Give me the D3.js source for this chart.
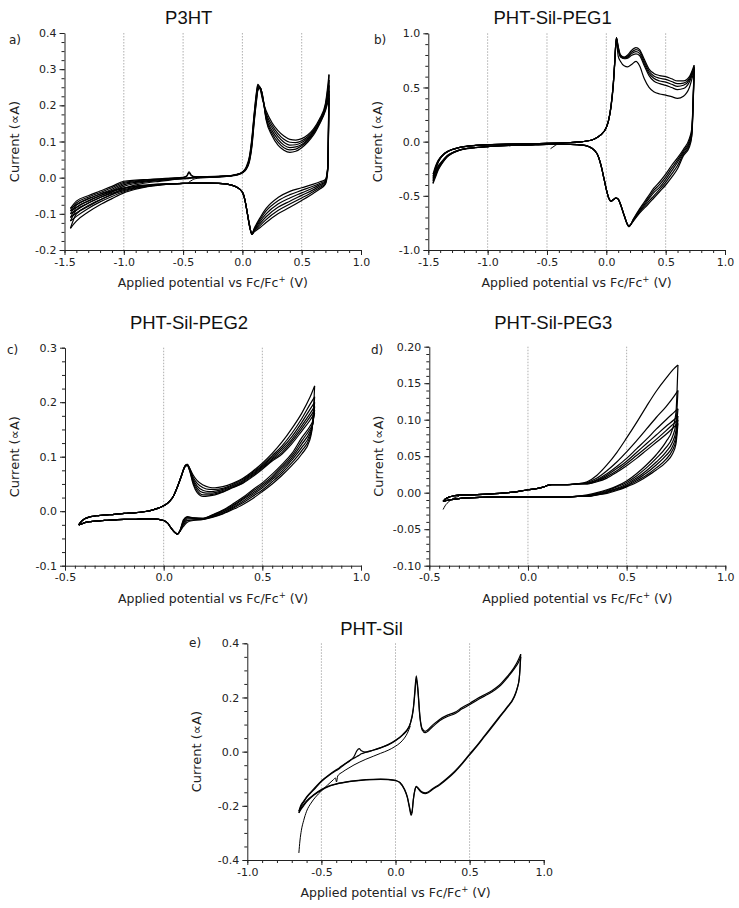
<!DOCTYPE html>
<html><head><meta charset="utf-8">
<script src="https://cdn.jsdelivr.net/npm/d3@7"></script>
<style>
body{margin:0;background:#fff;}
svg{display:block;background:#fff;}
</style></head><body>
<svg id="chart" width="739" height="908"></svg>
<script>
// ---------------- DATA ----------------
// Panel a: P3HT
const P3HT_E_FWD = [-1.45,-1.4,-1.3,-1.2,-1.1,-1.0,-0.9,-0.8,-0.7,-0.6,-0.5,-0.47,-0.45,-0.43,-0.4,-0.3,-0.2,-0.1,-0.05,0.0,0.03,0.06,0.08,0.1,0.12,0.13,0.15,0.17,0.2,0.25,0.3,0.35,0.4,0.45,0.5,0.55,0.6,0.65,0.7,0.73];
const P3HT_I_FWD = [
 [-0.085,-0.065,-0.05,-0.037,-0.024,-0.01,-0.007,-0.005,-0.003,-0.001,0.001,0.005,0.016,0.007,0.003,0.003,0.004,0.006,0.009,0.016,0.028,0.06,0.11,0.18,0.24,0.258,0.245,0.215,0.185,0.152,0.13,0.115,0.106,0.104,0.108,0.118,0.135,0.162,0.205,0.285],
 [-0.092,-0.07,-0.054,-0.041,-0.028,-0.013,-0.009,-0.006,-0.004,-0.002,0.0,0.004,0.013,0.005,0.002,0.002,0.003,0.005,0.008,0.015,0.026,0.056,0.105,0.175,0.235,0.255,0.248,0.22,0.178,0.145,0.122,0.106,0.098,0.097,0.102,0.113,0.131,0.158,0.2,0.27],
 [-0.1,-0.076,-0.059,-0.045,-0.032,-0.016,-0.011,-0.008,-0.005,-0.003,-0.001,-0.001,-0.001,0.0,0.001,0.002,0.003,0.005,0.008,0.015,0.025,0.053,0.1,0.17,0.23,0.252,0.25,0.222,0.172,0.138,0.114,0.098,0.09,0.091,0.097,0.109,0.128,0.155,0.196,0.255],
 [-0.11,-0.083,-0.065,-0.05,-0.036,-0.02,-0.013,-0.009,-0.006,-0.004,-0.002,-0.002,-0.001,0.0,0.001,0.002,0.003,0.005,0.008,0.014,0.024,0.05,0.095,0.165,0.225,0.248,0.25,0.224,0.167,0.13,0.106,0.09,0.083,0.085,0.092,0.105,0.125,0.152,0.192,0.24],
 [-0.12,-0.09,-0.071,-0.055,-0.04,-0.024,-0.016,-0.011,-0.008,-0.005,-0.003,-0.002,-0.001,0.0,0.001,0.002,0.003,0.005,0.008,0.014,0.023,0.048,0.09,0.16,0.22,0.245,0.25,0.226,0.163,0.123,0.098,0.083,0.077,0.079,0.088,0.102,0.122,0.15,0.188,0.23],
 [-0.14,-0.1,-0.08,-0.062,-0.046,-0.03,-0.02,-0.014,-0.01,-0.006,-0.003,-0.003,-0.002,-0.001,0.0,0.001,0.002,0.004,0.007,0.013,0.022,0.045,0.085,0.155,0.215,0.24,0.248,0.228,0.16,0.116,0.09,0.076,0.07,0.073,0.083,0.098,0.118,0.148,0.185,0.22]
];
const P3HT_E_REV = [-1.45,-1.4,-1.3,-1.2,-1.1,-1.0,-0.9,-0.8,-0.7,-0.6,-0.5,-0.4,-0.3,-0.2,-0.1,-0.05,0.0,0.02,0.04,0.06,0.08,0.1,0.15,0.2,0.3,0.4,0.5,0.6,0.65,0.7,0.72,0.73];
const P3HT_I_REV = [
 [-0.085,-0.075,-0.058,-0.046,-0.036,-0.028,-0.023,-0.02,-0.018,-0.017,-0.016,-0.015,-0.015,-0.016,-0.02,-0.026,-0.04,-0.06,-0.095,-0.135,-0.155,-0.14,-0.11,-0.085,-0.055,-0.038,-0.028,-0.018,-0.012,-0.005,0.03,0.285],
 [-0.092,-0.082,-0.064,-0.05,-0.039,-0.03,-0.024,-0.021,-0.018,-0.017,-0.016,-0.015,-0.015,-0.016,-0.02,-0.026,-0.04,-0.06,-0.095,-0.134,-0.155,-0.142,-0.115,-0.092,-0.064,-0.047,-0.035,-0.023,-0.016,-0.008,0.03,0.27],
 [-0.1,-0.09,-0.07,-0.055,-0.043,-0.033,-0.026,-0.022,-0.019,-0.017,-0.016,-0.015,-0.015,-0.016,-0.02,-0.026,-0.04,-0.06,-0.095,-0.133,-0.156,-0.144,-0.12,-0.1,-0.073,-0.056,-0.042,-0.028,-0.02,-0.01,0.028,0.255],
 [-0.11,-0.098,-0.077,-0.061,-0.047,-0.036,-0.028,-0.023,-0.019,-0.017,-0.016,-0.015,-0.015,-0.016,-0.02,-0.026,-0.04,-0.06,-0.095,-0.132,-0.156,-0.146,-0.126,-0.108,-0.082,-0.065,-0.049,-0.033,-0.024,-0.012,0.026,0.24],
 [-0.12,-0.107,-0.085,-0.067,-0.052,-0.039,-0.03,-0.024,-0.02,-0.017,-0.016,-0.015,-0.015,-0.016,-0.02,-0.026,-0.04,-0.06,-0.095,-0.131,-0.157,-0.148,-0.132,-0.116,-0.091,-0.073,-0.056,-0.038,-0.028,-0.015,0.024,0.23],
 [-0.14,-0.12,-0.095,-0.075,-0.058,-0.042,-0.032,-0.025,-0.021,-0.017,-0.016,-0.015,-0.015,-0.016,-0.02,-0.026,-0.04,-0.06,-0.095,-0.13,-0.157,-0.15,-0.138,-0.124,-0.1,-0.082,-0.063,-0.043,-0.032,-0.018,0.02,0.22]
];
const P3HT_E_START = [-0.455,-0.44,-0.42,-0.4,-0.35,-0.3,-0.2,-0.1];
const P3HT_I_START = [-0.014,-0.01,-0.006,-0.003,-0.001,0.0,0.002,0.004];

// Panel b: PHT-Sil-PEG1
const PEG1_E_FWD = [-1.46,-1.44,-1.42,-1.4,-1.37,-1.34,-1.3,-1.25,-1.2,-1.1,-1.0,-0.8,-0.6,-0.5,-0.4,-0.3,-0.2,-0.15,-0.1,-0.05,0.0,0.02,0.04,0.06,0.07,0.085,0.1,0.12,0.15,0.18,0.21,0.25,0.28,0.32,0.36,0.4,0.45,0.5,0.55,0.6,0.65,0.7,0.74];
const PEG1_I_FWD = [
 [-0.385,-0.27,-0.2,-0.158,-0.12,-0.095,-0.075,-0.058,-0.047,-0.035,-0.028,-0.022,-0.018,-0.016,-0.013,-0.008,0.0,0.008,0.025,0.06,0.13,0.2,0.33,0.55,0.72,0.96,0.88,0.8,0.78,0.8,0.84,0.868,0.85,0.76,0.67,0.63,0.61,0.6,0.58,0.56,0.56,0.6,0.705],
 [-0.36,-0.26,-0.195,-0.155,-0.118,-0.094,-0.074,-0.058,-0.047,-0.035,-0.029,-0.022,-0.018,-0.016,-0.013,-0.008,0.0,0.008,0.025,0.06,0.13,0.2,0.33,0.55,0.72,0.96,0.87,0.79,0.775,0.79,0.825,0.85,0.835,0.74,0.65,0.605,0.585,0.575,0.555,0.535,0.54,0.585,0.69],
 [-0.34,-0.25,-0.19,-0.152,-0.116,-0.093,-0.073,-0.057,-0.046,-0.035,-0.029,-0.022,-0.018,-0.016,-0.013,-0.008,0.0,0.008,0.025,0.06,0.13,0.2,0.33,0.55,0.72,0.955,0.86,0.785,0.77,0.78,0.81,0.83,0.815,0.72,0.63,0.585,0.56,0.55,0.53,0.51,0.52,0.57,0.68],
 [-0.32,-0.24,-0.185,-0.15,-0.115,-0.092,-0.073,-0.057,-0.046,-0.035,-0.029,-0.022,-0.018,-0.016,-0.013,-0.008,0.0,0.008,0.025,0.06,0.13,0.2,0.33,0.55,0.72,0.95,0.85,0.78,0.765,0.77,0.795,0.81,0.795,0.7,0.61,0.56,0.535,0.52,0.5,0.48,0.49,0.55,0.67],
 [-0.3,-0.23,-0.18,-0.148,-0.114,-0.091,-0.072,-0.056,-0.046,-0.035,-0.03,-0.023,-0.018,-0.016,-0.013,-0.008,0.0,0.008,0.025,0.06,0.13,0.2,0.32,0.53,0.7,0.93,0.79,0.74,0.7,0.69,0.71,0.74,0.7,0.58,0.5,0.46,0.44,0.43,0.415,0.4,0.42,0.5,0.66]
];
const PEG1_E_REV = [-1.46,-1.44,-1.42,-1.4,-1.37,-1.34,-1.3,-1.25,-1.2,-1.1,-1.0,-0.8,-0.6,-0.5,-0.4,-0.3,-0.2,-0.15,-0.1,-0.07,-0.04,-0.02,0.0,0.02,0.04,0.06,0.08,0.1,0.12,0.15,0.19,0.23,0.28,0.35,0.4,0.45,0.5,0.55,0.6,0.65,0.7,0.72,0.74];
const PEG1_I_REV = [
 [-0.385,-0.33,-0.27,-0.23,-0.18,-0.14,-0.11,-0.085,-0.07,-0.055,-0.046,-0.035,-0.028,-0.025,-0.024,-0.025,-0.032,-0.045,-0.08,-0.13,-0.24,-0.34,-0.44,-0.52,-0.55,-0.535,-0.52,-0.53,-0.58,-0.68,-0.785,-0.71,-0.62,-0.51,-0.43,-0.37,-0.3,-0.22,-0.15,-0.07,0.03,0.12,0.705],
 [-0.36,-0.315,-0.26,-0.222,-0.175,-0.137,-0.108,-0.084,-0.069,-0.055,-0.046,-0.035,-0.028,-0.025,-0.024,-0.025,-0.032,-0.045,-0.08,-0.13,-0.24,-0.34,-0.44,-0.52,-0.55,-0.535,-0.52,-0.53,-0.58,-0.68,-0.785,-0.715,-0.63,-0.525,-0.45,-0.395,-0.325,-0.245,-0.17,-0.085,0.01,0.1,0.69],
 [-0.34,-0.3,-0.25,-0.215,-0.17,-0.134,-0.106,-0.083,-0.068,-0.054,-0.046,-0.035,-0.028,-0.025,-0.024,-0.025,-0.032,-0.045,-0.08,-0.13,-0.24,-0.34,-0.44,-0.52,-0.55,-0.535,-0.52,-0.53,-0.58,-0.68,-0.78,-0.72,-0.64,-0.54,-0.47,-0.42,-0.35,-0.27,-0.19,-0.1,-0.01,0.08,0.68],
 [-0.32,-0.285,-0.24,-0.208,-0.166,-0.131,-0.104,-0.082,-0.067,-0.054,-0.046,-0.035,-0.028,-0.025,-0.024,-0.025,-0.032,-0.045,-0.08,-0.13,-0.24,-0.34,-0.44,-0.52,-0.55,-0.535,-0.52,-0.53,-0.58,-0.68,-0.78,-0.725,-0.65,-0.56,-0.5,-0.44,-0.375,-0.3,-0.22,-0.115,-0.03,0.06,0.67],
 [-0.3,-0.27,-0.23,-0.2,-0.162,-0.128,-0.102,-0.081,-0.067,-0.054,-0.046,-0.035,-0.028,-0.025,-0.024,-0.025,-0.032,-0.045,-0.08,-0.13,-0.24,-0.34,-0.44,-0.52,-0.55,-0.535,-0.52,-0.53,-0.58,-0.68,-0.775,-0.73,-0.66,-0.58,-0.52,-0.46,-0.4,-0.33,-0.25,-0.13,-0.05,0.05,0.66]
];
const PEG1_E_START = [-0.47,-0.45,-0.43,-0.41,-0.38];
const PEG1_I_START = [-0.065,-0.05,-0.035,-0.022,-0.015];

// Panel c: PHT-Sil-PEG2
const PEG2_E_FWD = [-0.43,-0.42,-0.4,-0.37,-0.33,-0.3,-0.25,-0.2,-0.15,-0.1,-0.05,0.0,0.03,0.05,0.07,0.09,0.1,0.11,0.12,0.13,0.15,0.17,0.2,0.23,0.26,0.3,0.35,0.4,0.45,0.5,0.55,0.6,0.65,0.7,0.74,0.765];
const PEG2_I_FWD = [
 [-0.025,-0.02,-0.014,-0.01,-0.008,-0.007,-0.006,-0.004,-0.003,-0.001,0.003,0.01,0.018,0.028,0.045,0.065,0.076,0.084,0.086,0.08,0.066,0.056,0.048,0.044,0.043,0.045,0.051,0.06,0.073,0.088,0.106,0.127,0.152,0.18,0.208,0.23],
 [-0.025,-0.02,-0.014,-0.01,-0.008,-0.007,-0.006,-0.004,-0.003,-0.001,0.003,0.01,0.018,0.028,0.045,0.065,0.076,0.084,0.086,0.08,0.062,0.051,0.043,0.04,0.04,0.042,0.049,0.058,0.071,0.085,0.102,0.12,0.143,0.17,0.195,0.21],
 [-0.025,-0.02,-0.014,-0.01,-0.008,-0.007,-0.006,-0.004,-0.003,-0.001,0.003,0.01,0.018,0.028,0.045,0.065,0.076,0.084,0.085,0.079,0.058,0.046,0.038,0.036,0.037,0.04,0.047,0.056,0.069,0.083,0.099,0.116,0.137,0.163,0.186,0.2],
 [-0.025,-0.02,-0.014,-0.01,-0.008,-0.007,-0.006,-0.004,-0.003,-0.001,0.003,0.01,0.018,0.028,0.045,0.065,0.076,0.083,0.085,0.078,0.055,0.042,0.034,0.033,0.034,0.038,0.045,0.054,0.067,0.081,0.096,0.112,0.132,0.157,0.178,0.192],
 [-0.025,-0.02,-0.014,-0.01,-0.008,-0.007,-0.006,-0.004,-0.003,-0.001,0.003,0.01,0.018,0.028,0.045,0.065,0.075,0.083,0.084,0.077,0.052,0.038,0.03,0.03,0.032,0.036,0.044,0.052,0.065,0.079,0.094,0.108,0.128,0.152,0.172,0.186],
 [-0.025,-0.02,-0.014,-0.01,-0.008,-0.007,-0.006,-0.004,-0.003,-0.001,0.003,0.01,0.018,0.028,0.045,0.064,0.075,0.082,0.084,0.076,0.049,0.034,0.027,0.028,0.03,0.035,0.043,0.051,0.063,0.077,0.092,0.105,0.124,0.147,0.166,0.18]
];
const PEG2_E_REV = [-0.43,-0.42,-0.4,-0.37,-0.33,-0.3,-0.25,-0.2,-0.15,-0.1,-0.05,0.0,0.02,0.04,0.06,0.07,0.08,0.1,0.12,0.15,0.2,0.25,0.3,0.35,0.4,0.45,0.5,0.55,0.6,0.65,0.7,0.74,0.755,0.765];
const PEG2_I_REV = [
 [-0.025,-0.024,-0.021,-0.019,-0.018,-0.017,-0.016,-0.015,-0.015,-0.014,-0.014,-0.017,-0.022,-0.032,-0.04,-0.042,-0.038,-0.028,-0.02,-0.017,-0.015,-0.011,-0.005,0.003,0.012,0.023,0.036,0.05,0.066,0.084,0.105,0.13,0.16,0.23],
 [-0.025,-0.024,-0.021,-0.019,-0.018,-0.017,-0.016,-0.015,-0.015,-0.014,-0.014,-0.017,-0.022,-0.032,-0.04,-0.042,-0.038,-0.025,-0.017,-0.016,-0.015,-0.01,-0.004,0.005,0.015,0.027,0.039,0.054,0.07,0.089,0.111,0.135,0.16,0.21],
 [-0.025,-0.024,-0.021,-0.019,-0.018,-0.017,-0.016,-0.015,-0.015,-0.014,-0.014,-0.017,-0.022,-0.032,-0.04,-0.042,-0.038,-0.022,-0.014,-0.014,-0.014,-0.009,-0.002,0.007,0.018,0.03,0.043,0.058,0.074,0.094,0.117,0.14,0.16,0.2],
 [-0.025,-0.024,-0.021,-0.019,-0.018,-0.017,-0.016,-0.015,-0.015,-0.014,-0.014,-0.017,-0.022,-0.032,-0.04,-0.042,-0.038,-0.02,-0.012,-0.013,-0.014,-0.008,-0.001,0.009,0.021,0.033,0.046,0.061,0.078,0.098,0.123,0.145,0.16,0.192],
 [-0.025,-0.024,-0.021,-0.019,-0.018,-0.017,-0.016,-0.015,-0.015,-0.014,-0.014,-0.017,-0.022,-0.032,-0.04,-0.042,-0.038,-0.018,-0.011,-0.012,-0.013,-0.007,0.001,0.011,0.023,0.036,0.049,0.064,0.082,0.102,0.129,0.15,0.16,0.186],
 [-0.025,-0.024,-0.021,-0.019,-0.018,-0.017,-0.016,-0.015,-0.015,-0.014,-0.014,-0.017,-0.022,-0.032,-0.04,-0.042,-0.038,-0.016,-0.01,-0.012,-0.013,-0.006,0.002,0.013,0.025,0.039,0.052,0.068,0.086,0.106,0.135,0.155,0.165,0.18]
];

// Panel d: PHT-Sil-PEG3
const PEG3_E_FWD = [-0.43,-0.42,-0.4,-0.37,-0.33,-0.3,-0.2,-0.1,0.0,0.05,0.08,0.1,0.12,0.15,0.2,0.25,0.3,0.35,0.4,0.45,0.5,0.55,0.6,0.65,0.7,0.74,0.76];
const PEG3_I_FWD = [
 [-0.012,-0.009,-0.006,-0.004,-0.003,-0.003,-0.002,0.0,0.004,0.006,0.008,0.01,0.011,0.011,0.011,0.012,0.015,0.024,0.038,0.055,0.075,0.096,0.118,0.139,0.157,0.17,0.175],
 [-0.012,-0.009,-0.006,-0.004,-0.003,-0.003,-0.002,0.0,0.004,0.006,0.008,0.01,0.011,0.011,0.011,0.012,0.014,0.02,0.03,0.042,0.056,0.071,0.087,0.103,0.118,0.132,0.14],
 [-0.012,-0.009,-0.006,-0.004,-0.003,-0.003,-0.002,0.0,0.004,0.006,0.008,0.01,0.011,0.011,0.011,0.012,0.013,0.018,0.026,0.036,0.047,0.06,0.073,0.087,0.1,0.11,0.115],
 [-0.012,-0.009,-0.006,-0.004,-0.003,-0.003,-0.002,0.0,0.004,0.006,0.008,0.01,0.011,0.011,0.011,0.012,0.013,0.017,0.024,0.033,0.043,0.055,0.067,0.079,0.091,0.1,0.105],
 [-0.012,-0.009,-0.006,-0.004,-0.003,-0.003,-0.002,0.0,0.004,0.006,0.008,0.01,0.011,0.011,0.011,0.012,0.012,0.016,0.022,0.03,0.04,0.051,0.062,0.073,0.085,0.095,0.1],
 [-0.012,-0.009,-0.006,-0.004,-0.003,-0.003,-0.002,0.0,0.004,0.006,0.008,0.01,0.011,0.011,0.011,0.012,0.012,0.015,0.02,0.028,0.037,0.047,0.058,0.069,0.08,0.09,0.095]
];
const PEG3_E_REV = [-0.43,-0.4,-0.35,-0.3,-0.2,-0.1,0.0,0.1,0.2,0.25,0.3,0.35,0.4,0.45,0.5,0.55,0.6,0.65,0.7,0.73,0.75,0.76];
const PEG3_I_REV = [
 [-0.012,-0.01,-0.008,-0.007,-0.006,-0.006,-0.006,-0.006,-0.006,-0.005,-0.003,0.0,0.004,0.009,0.016,0.026,0.038,0.052,0.07,0.085,0.11,0.175],
 [-0.012,-0.01,-0.008,-0.007,-0.006,-0.006,-0.006,-0.006,-0.006,-0.005,-0.004,-0.001,0.003,0.008,0.014,0.023,0.034,0.047,0.062,0.075,0.095,0.14],
 [-0.012,-0.01,-0.008,-0.007,-0.006,-0.006,-0.006,-0.006,-0.006,-0.005,-0.004,-0.002,0.002,0.006,0.012,0.02,0.03,0.042,0.056,0.068,0.085,0.115],
 [-0.012,-0.01,-0.008,-0.007,-0.006,-0.006,-0.006,-0.006,-0.006,-0.005,-0.005,-0.002,0.001,0.005,0.01,0.018,0.027,0.038,0.051,0.062,0.078,0.105],
 [-0.012,-0.01,-0.008,-0.007,-0.006,-0.006,-0.006,-0.006,-0.006,-0.005,-0.005,-0.003,0.0,0.004,0.009,0.016,0.024,0.034,0.046,0.057,0.072,0.1],
 [-0.012,-0.01,-0.008,-0.007,-0.006,-0.006,-0.006,-0.006,-0.006,-0.005,-0.005,-0.003,-0.001,0.003,0.008,0.014,0.022,0.031,0.042,0.052,0.067,0.095]
];
const PEG3_E_START = [-0.43,-0.42,-0.4,-0.38,-0.35];
const PEG3_I_START = [-0.023,-0.018,-0.012,-0.008,-0.005];

// Panel e: PHT-Sil
const SIL_E_FWD = [-0.652,-0.64,-0.62,-0.6,-0.55,-0.5,-0.45,-0.4,-0.38,-0.35,-0.3,-0.28,-0.26,-0.245,-0.23,-0.2,-0.15,-0.1,-0.05,0.0,0.05,0.08,0.1,0.12,0.13,0.14,0.15,0.165,0.18,0.2,0.25,0.3,0.35,0.4,0.45,0.5,0.55,0.6,0.65,0.7,0.75,0.8,0.83,0.845];
const SIL_I_FWD = [
 [-0.226,-0.205,-0.187,-0.17,-0.14,-0.11,-0.088,-0.07,-0.063,-0.05,-0.03,-0.018,0.004,0.011,0.003,-0.002,0.005,0.014,0.025,0.04,0.062,0.08,0.105,0.16,0.22,0.28,0.24,0.13,0.085,0.075,0.098,0.12,0.135,0.145,0.163,0.178,0.195,0.21,0.225,0.245,0.275,0.31,0.34,0.36],
 [-0.22,-0.2,-0.183,-0.167,-0.137,-0.108,-0.086,-0.067,-0.06,-0.048,-0.03,-0.024,-0.018,-0.013,-0.008,-0.002,0.006,0.015,0.026,0.042,0.064,0.082,0.103,0.155,0.21,0.27,0.23,0.125,0.08,0.07,0.092,0.115,0.13,0.14,0.158,0.173,0.19,0.205,0.22,0.24,0.27,0.305,0.33,0.35]
];
const SIL_E_REV = [-0.652,-0.64,-0.62,-0.6,-0.55,-0.5,-0.45,-0.4,-0.3,-0.2,-0.1,-0.05,0.0,0.03,0.06,0.08,0.095,0.105,0.112,0.12,0.13,0.14,0.15,0.17,0.2,0.22,0.25,0.3,0.35,0.4,0.45,0.5,0.55,0.6,0.65,0.7,0.75,0.8,0.82,0.835,0.845];
const SIL_I_REV = [
 [-0.226,-0.215,-0.2,-0.185,-0.16,-0.142,-0.128,-0.12,-0.11,-0.104,-0.102,-0.103,-0.107,-0.115,-0.14,-0.17,-0.21,-0.235,-0.225,-0.18,-0.145,-0.13,-0.135,-0.148,-0.155,-0.152,-0.14,-0.122,-0.1,-0.075,-0.045,-0.012,0.02,0.055,0.09,0.125,0.16,0.2,0.23,0.27,0.36],
 [-0.22,-0.21,-0.196,-0.182,-0.158,-0.14,-0.127,-0.119,-0.109,-0.103,-0.101,-0.102,-0.106,-0.114,-0.138,-0.167,-0.205,-0.228,-0.22,-0.178,-0.143,-0.128,-0.132,-0.145,-0.152,-0.149,-0.137,-0.119,-0.097,-0.072,-0.042,-0.009,0.023,0.058,0.093,0.128,0.163,0.203,0.233,0.27,0.35]
];
const SIL_E_START = [-0.652,-0.645,-0.635,-0.62,-0.6,-0.57,-0.54,-0.5,-0.46,-0.42,-0.405,-0.398,-0.39,-0.36,-0.32,-0.28,-0.24,-0.2,-0.15,-0.1,-0.05,0.0,0.03,0.06,0.08,0.1];
const SIL_I_START = [-0.374,-0.33,-0.29,-0.255,-0.22,-0.19,-0.168,-0.145,-0.124,-0.104,-0.097,-0.112,-0.09,-0.076,-0.062,-0.049,-0.038,-0.028,-0.017,-0.006,0.005,0.02,0.032,0.05,0.068,0.095];

// Tick labels / axes
const TITLES = ["P3HT","PHT-Sil-PEG1","PHT-Sil-PEG2","PHT-Sil-PEG3","PHT-Sil"];
const LETTERS = ["a)","b)","c)","d)","e)"];
const X_TICKS_A = [-1.5,-1.0,-0.5,0.0,0.5,1.0];
const X_TICKS_C = [-0.5,0.0,0.5,1.0];
const X_TICKS_E = [-1.0,-0.5,0.0,0.5,1.0];
const Y_TICKS_A = [-0.2,-0.1,0.0,0.1,0.2,0.3,0.4];
const Y_TICKS_B = [-1.0,-0.5,0.0,0.5,1.0];
const Y_TICKS_C = [-0.1,0.0,0.1,0.2,0.3];
const Y_TICKS_D = [-0.10,-0.05,0.00,0.05,0.10,0.15,0.20];
const Y_TICKS_E = [-0.4,-0.2,0.0,0.2,0.4];
const GRID_AB = [-1.0,-0.5,0.0,0.5];
const GRID_CD = [0.0,0.5];
const GRID_E = [-0.5,0.0,0.5];
const X_LABEL = "Applied potential vs Fc/Fc";
const Y_LABEL = "Current (\u221DA)";

// ---------------- LAYOUT ----------------
const panels = [
 {title:TITLES[0], letter:LETTERS[0], left:64.5, top:33, w:296.5, h:217, xd:[-1.5,1.0], yd:[-0.2,0.4], xt:X_TICKS_A, yt:Y_TICKS_A, xm:0.1, ym:0.025, dec:1, grid:GRID_AB,
  fwdE:P3HT_E_FWD, fwdI:P3HT_I_FWD, revE:P3HT_E_REV, revI:P3HT_I_REV, stE:P3HT_E_START, stI:P3HT_I_START, titleY:24, letterY:44, letterX:9},
 {title:TITLES[1], letter:LETTERS[1], left:428.3, top:33.3, w:296.7, h:216.7, xd:[-1.5,1.0], yd:[-1.0,1.0], xt:X_TICKS_A, yt:Y_TICKS_B, xm:0.1, ym:0.1, dec:1, grid:GRID_AB,
  fwdE:PEG1_E_FWD, fwdI:PEG1_I_FWD, revE:PEG1_E_REV, revI:PEG1_I_REV, stE:PEG1_E_START, stI:PEG1_I_START, titleY:24, letterY:44, letterX:374},
 {title:TITLES[2], letter:LETTERS[2], left:65, top:347.7, w:296, h:218, xd:[-0.5,1.0], yd:[-0.1,0.3], xt:X_TICKS_C, yt:Y_TICKS_C, xm:0.05, ym:0.025, dec:1, grid:GRID_CD,
  fwdE:PEG2_E_FWD, fwdI:PEG2_I_FWD, revE:PEG2_E_REV, revI:PEG2_I_REV, stE:null, stI:null, titleY:329, letterY:354, letterX:7},
 {title:TITLES[3], letter:LETTERS[3], left:429.3, top:346.7, w:296, h:219, xd:[-0.5,1.0], yd:[-0.1,0.2], xt:X_TICKS_C, yt:Y_TICKS_D, xm:0.05, ym:0.01, dec:2, grid:GRID_CD,
  fwdE:PEG3_E_FWD, fwdI:PEG3_I_FWD, revE:PEG3_E_REV, revI:PEG3_I_REV, stE:PEG3_E_START, stI:PEG3_I_START, titleY:329, letterY:354, letterX:371},
 {title:TITLES[4], letter:LETTERS[4], left:247.3, top:643.3, w:296.4, h:216.7, xd:[-1.0,1.0], yd:[-0.4,0.4], xt:X_TICKS_E, yt:Y_TICKS_E, xm:0.1, ym:0.05, dec:1, grid:GRID_E,
  fwdE:SIL_E_FWD, fwdI:SIL_I_FWD, revE:SIL_E_REV, revI:SIL_I_REV, stE:SIL_E_START, stI:SIL_I_START, titleY:635, letterY:647, letterX:189}
];

const svg = d3.select("#chart");
const TICK_FONT = "'DejaVu Sans', Verdana, sans-serif";
const TITLE_FONT = "'Liberation Sans', Arial, sans-serif";

panels.forEach(p => {
  const x = d3.scaleLinear().domain(p.xd).range([p.left, p.left + p.w]);
  const y = d3.scaleLinear().domain(p.yd).range([p.top + p.h, p.top]);
  const g = svg.append("g");

  // grid
  g.selectAll("line.grid").data(p.grid).join("line")
    .attr("x1", d => x(d)).attr("x2", d => x(d))
    .attr("y1", p.top).attr("y2", p.top + p.h)
    .attr("stroke", "#9a9a9a").attr("stroke-width", 0.8).attr("stroke-dasharray", "1.5,1.5");

  // minor ticks
  const span = (a, b, s) => d3.range(Math.round((b - a) / s) + 1).map(i => +(a + i * s).toFixed(4));
  const xMinor = span(p.xd[0], p.xd[1], p.xm);
  const yMinor = span(p.yd[0], p.yd[1], p.ym);
  g.append("g").attr("transform", `translate(0,${p.top + p.h})`)
    .call(d3.axisBottom(x).tickValues(xMinor).tickSize(3).tickSizeOuter(0).tickFormat(""))
    .call(s => s.select(".domain").remove())
    .call(s => s.selectAll("line").attr("stroke", "#222"));
  g.append("g").attr("transform", `translate(${p.left},0)`)
    .call(d3.axisLeft(y).tickValues(yMinor).tickSize(3).tickSizeOuter(0).tickFormat(""))
    .call(s => s.select(".domain").remove())
    .call(s => s.selectAll("line").attr("stroke", "#222"));

  // major axes
  const fmt = d => d.toFixed(p.dec);
  const xa = g.append("g").attr("transform", `translate(0,${p.top + p.h})`)
    .call(d3.axisBottom(x).tickValues(p.xt).tickSize(5).tickSizeOuter(0).tickPadding(3).tickFormat(d => d.toFixed(1)));
  const ya = g.append("g").attr("transform", `translate(${p.left},0)`)
    .call(d3.axisLeft(y).tickValues(p.yt).tickSize(5).tickSizeOuter(0).tickPadding(3).tickFormat(fmt));
  [xa, ya].forEach(a => {
    a.attr("font-family", TICK_FONT).attr("font-size", 11);
    a.selectAll("text").attr("fill", "#222");
    a.selectAll("line,path").attr("stroke", "#222");
  });

  // curves
  const line = d3.line().x(d => x(d[0])).y(d => y(d[1])).curve(d3.curveMonotoneX);
  const curves = g.append("g").attr("fill", "none").attr("stroke", "#000").attr("stroke-linejoin", "round");
  p.fwdI.forEach(ci => curves.append("path").attr("d", line(d3.zip(p.fwdE, ci))).attr("stroke-width", 1.2));
  p.revI.forEach(ci => curves.append("path").attr("d", line(d3.zip(p.revE, ci))).attr("stroke-width", 1.2));
  if (p.stE) curves.append("path").attr("d", line(d3.zip(p.stE, p.stI))).attr("stroke-width", 1.0);

  // title
  svg.append("text").attr("x", p.left + p.w / 2 - 24).attr("y", p.titleY)
    .attr("text-anchor", "middle").attr("font-family", TITLE_FONT).attr("font-size", 18.5).attr("fill", "#111").text(p.title);
  // letter
  svg.append("text").attr("x", p.letterX).attr("y", p.letterY)
    .attr("font-family", TICK_FONT).attr("font-size", 12).attr("fill", "#222").text(p.letter);
  // x label
  const xl = svg.append("text").attr("x", p.left + p.w / 2).attr("y", p.top + p.h + 37)
    .attr("text-anchor", "middle").attr("font-family", TICK_FONT).attr("font-size", 12.5).attr("fill", "#222");
  xl.append("tspan").text(X_LABEL);
  xl.append("tspan").attr("font-size", 8.5).attr("dy", -5).text("+");
  xl.append("tspan").attr("dy", 5).text(" (V)");
  // y label
  svg.append("text").attr("transform", `translate(${p.left - 46},${p.top + p.h / 2}) rotate(-90)`)
    .attr("text-anchor", "middle").attr("font-family", TICK_FONT).attr("font-size", 13).attr("fill", "#222").text(Y_LABEL);
});
</script>
</body></html>
